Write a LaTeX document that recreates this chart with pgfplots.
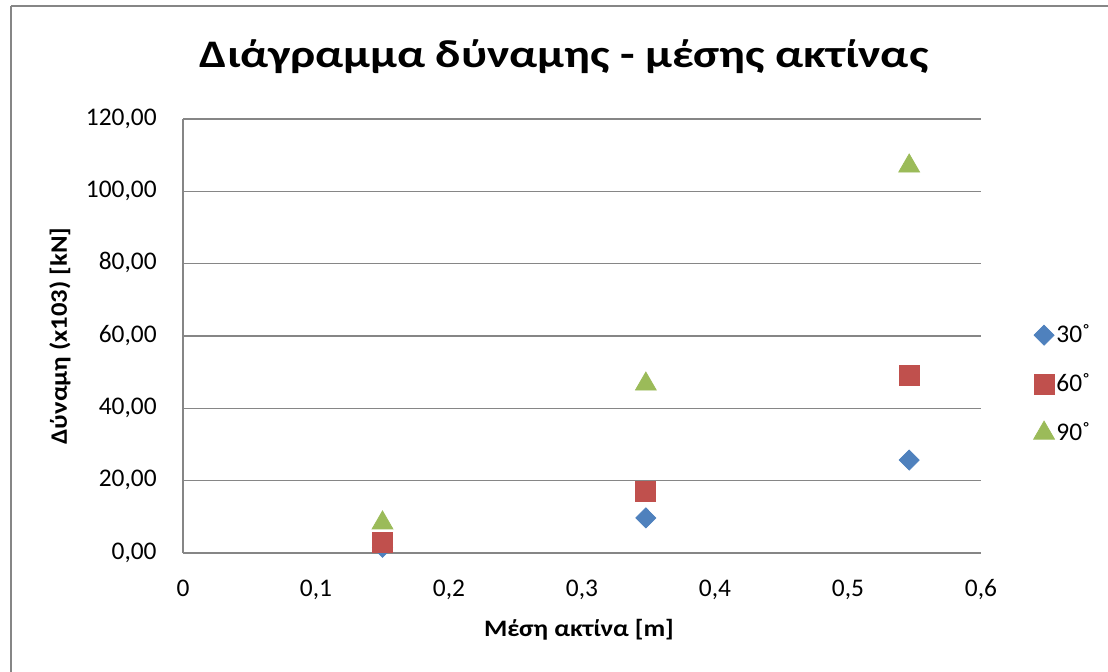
\documentclass[border=0pt]{standalone}
\usepackage{pgfplots}
\pgfplotsset{compat=1.18}
\usepackage{fontspec}
\setmainfont{Carlito}
\newfontfamily\titlefont[FakeStretch=1.22]{Carlito}
\newfontfamily\labelfont[FakeStretch=1.13]{Carlito}

\definecolor{serA}{HTML}{4F81BD}
\definecolor{serB}{HTML}{C0504D}
\definecolor{serC}{HTML}{9BBB59}
\definecolor{gridgray}{HTML}{868686}

% 1 px of the layout grid = 0.5pt
\begin{document}
\begin{tikzpicture}[x=0.5pt,y=0.5pt]
\path[use as bounding box] (0,0) rectangle (1108,672);
% chart frame (top and left edges)
\draw[gridgray, line width=1pt] (11,665.5) -- (1108,665.5);
\draw[gridgray, line width=1pt] (11,665.5) -- (11,0);
% title
\node[anchor=base, inner sep=0pt, font=\titlefont\fontsize{19.5}{22}\selectfont\bfseries] at (564,604) {Διάγραμμα δύναμης - μέσης ακτίνας};

\begin{axis}[
  at={(91.5pt,59.5pt)}, anchor=south west,
  scale only axis, width=399pt, height=217pt,
  xmin=0, xmax=0.6, ymin=0, ymax=120,
  xtick={0,0.1,0.2,0.3,0.4,0.5,0.6}, ytick={0,20,...,120},
  major tick length=0pt,
  axis lines*=left,
  axis line style={gridgray, line width=0.75pt},
  ymajorgrids, grid style={gridgray, line width=0.75pt},
  tick label style={font=\fontsize{12.7}{15}\selectfont},
  /pgf/number format/assume math mode=true,
  xticklabel style={/pgf/number format/fixed, /pgf/number format/precision=1,
    /pgf/number format/use comma,
    anchor=base, inner sep=0pt, yshift=-22pt},
  yticklabel style={/pgf/number format/fixed, /pgf/number format/fixed zerofill,
    /pgf/number format/precision=2, /pgf/number format/use comma,
    anchor=base east, inner sep=0pt, xshift=-13pt, yshift=-0.316em},
  xlabel={Μέση ακτίνα [m]},
  ylabel={Δύναμη (x103) [kN]},
  label style={font=\labelfont\fontsize{11.8}{14}\selectfont\bfseries, inner sep=0pt},
  xlabel style={at={(axis description cs:0.4962,0)}, anchor=base, yshift=-42pt},
  ylabel style={at={(axis description cs:-0.1454,0.5)}, anchor=base},
  legend style={draw=none, fill=none, at={(1.058,0.389)}, anchor=west,
    font=\fontsize{12.7}{15}\selectfont, row sep=12pt,
    nodes={inner sep=1pt}},
  legend cell align=left,
  legend image code/.code={\draw[mark repeat=2,mark phase=2,#1] plot coordinates {(-5pt,0pt) (0pt,0pt) (5pt,0pt)};},
  clip=false,
]
\addplot[only marks, mark=diamond*, mark size=5pt, mark options={xscale=1.333}, color=serA]
  coordinates {(0.15,1.6) (0.348,9.7) (0.546,25.7)};
\addlegendentry{30˚}
\addplot[only marks, mark=square*, mark size=5pt, color=serB]
  coordinates {(0.15,2.8) (0.348,17.0) (0.546,49.2)};
\addlegendentry{60˚}
\addplot[only marks, mark=triangle*, mark size=6pt, color=serC]
  coordinates {(0.15,8.3) (0.348,46.7) (0.546,107.0)};
\addlegendentry{90˚}
\end{axis}
\end{tikzpicture}
\end{document}
